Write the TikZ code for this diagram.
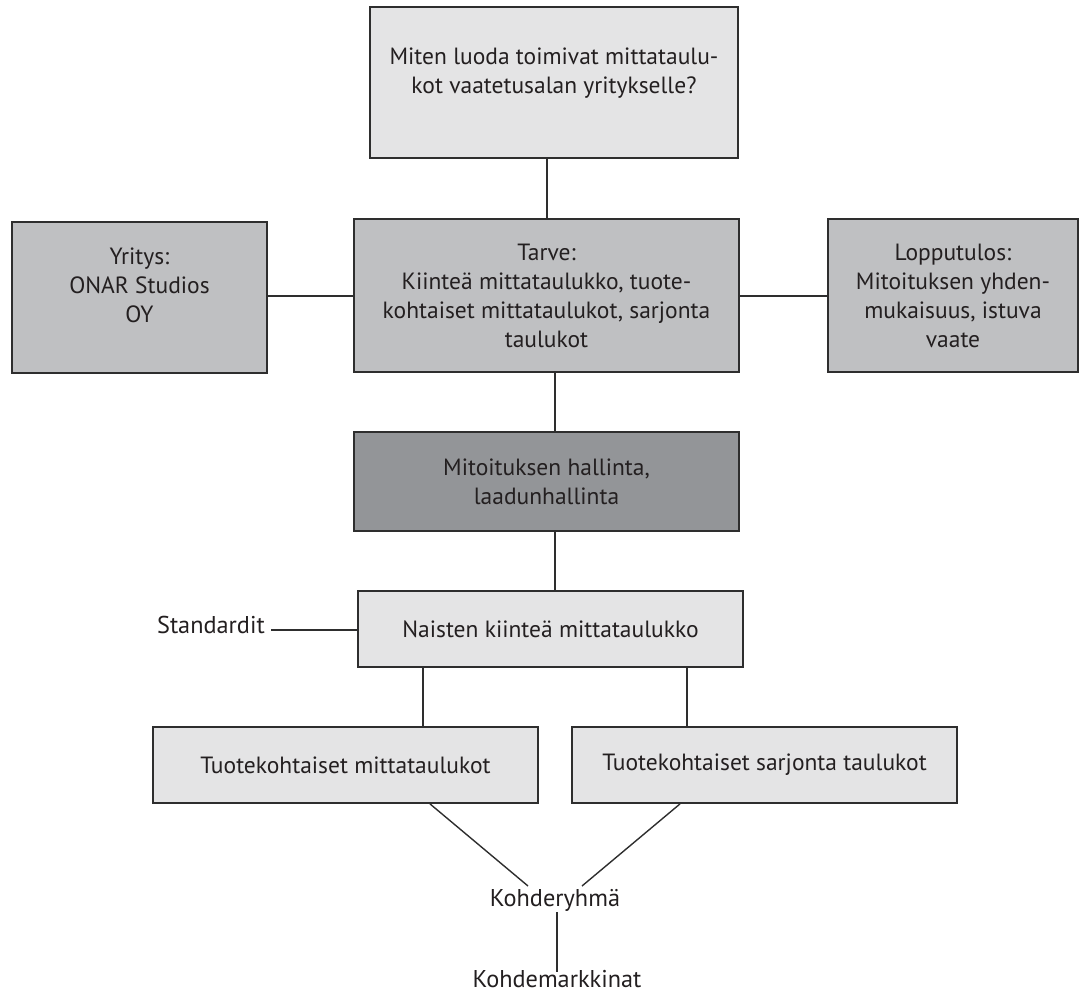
\documentclass[tikz,border=0pt]{standalone}
\usepackage{fontspec}
\setmainfont{PT Sans}
\definecolor{lightfill}{HTML}{E4E4E5}
\definecolor{midfill}{HTML}{BFC0C2}
\definecolor{darkfill}{HTML}{939598}
\definecolor{edge}{HTML}{2E2E2E}
\definecolor{ink}{HTML}{231F20}
\begin{document}
\begin{tikzpicture}[x=1pt,y=-1pt,
  every node/.style={text=ink,font=\fontsize{23.5}{29}\selectfont},
  box/.style={draw=edge,line width=1.8pt,inner sep=0pt,align=center},
  lbox/.style={box,fill=lightfill},
  mbox/.style={box,fill=midfill},
  dbox/.style={box,fill=darkfill},
  conn/.style={draw=edge,line width=1.4pt},
  lbl/.style={inner sep=0pt,anchor=base,font=\fontsize{24.3}{29}\selectfont}]
\useasboundingbox (0,0) rectangle (1079,993);
% boxes
\node[lbox,minimum width=368pt,minimum height=151pt] (q) at (554,82.5) {};
\node[inner sep=0pt,anchor=base,align=center] (qt) at (554,93) {Miten luoda toimivat mittataulu-\\kot vaatetusalan yritykselle?};
\node[mbox,minimum width=255pt,minimum height=151pt] (yr) at (139.5,297.5) {};
\node[inner sep=0pt,anchor=base,align=center] (yrt) at (139.5,322) {Yritys:\\ONAR Studios\\OY};
\node[mbox,minimum width=385pt,minimum height=153pt] (tarve) at (546.5,295.5) {Tarve:\\Kiinteä mittataulukko, tuote-\\kohtaiset mittataulukot, sarjonta\\taulukot};
\node[mbox,minimum width=250pt,minimum height=153pt] (lop) at (953,295.5) {Lopputulos:\\Mitoituksen yhden-\\mukaisuus, istuva\\vaate};
\node[dbox,minimum width=385pt,minimum height=99pt] (mit) at (546.5,481.5) {Mitoituksen hallinta,\\laadunhallinta};
\node[lbox,minimum width=385pt,minimum height=76pt] (nai) at (550.5,629) {Naisten kiinteä mittataulukko};
\node[lbox,minimum width=385pt,minimum height=76pt] (tm) at (345.5,765) {Tuotekohtaiset mittataulukot};
\node[lbox,minimum width=385pt,minimum height=76pt] (ts) at (764.5,765) {Tuotekohtaiset sarjonta taulukot};
% free texts
\node[lbl,anchor=base east] (std) at (265,633) {Standardit};
\node[lbl] (koh) at (555,906) {Kohderyhmä};
\node[lbl] (km) at (557,987) {Kohdemarkkinat};
% coordinates
\coordinate (kl) at (528,886);
\coordinate (kr) at (582,886);
\coordinate (kb) at (557,912);
\coordinate (kt) at (557,972);
% connectors
\draw[conn] (q.south -| 547,0) -- (tarve.north -| 547,0);
\draw[conn] (yr.east |- 0,296) -- (tarve.west |- 0,296);
\draw[conn] (tarve.east |- 0,296) -- (lop.west |- 0,296);
\draw[conn] (tarve.south -| 555,0) -- (mit.north -| 555,0);
\draw[conn] (mit.south -| 555,0) -- (nai.north -| 555,0);
\draw[conn] ([xshift=6pt]std.east |- 0,630) -- (nai.west |- 0,630);
\draw[conn] (nai.south -| 423,0) -- (tm.north -| 423,0);
\draw[conn] (nai.south -| 687,0) -- (ts.north -| 687,0);
\draw[conn] (tm.south -| 430,0) -- (kl);
\draw[conn] (ts.south -| 680,0) -- (kr);
\draw[conn] (kb) -- (kt);
\end{tikzpicture}
\end{document}
